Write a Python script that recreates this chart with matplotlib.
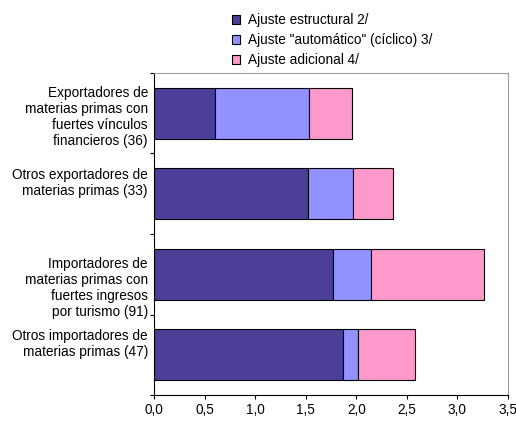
#! /usr/bin/env python3

import numpy as np
import matplotlib
matplotlib.use('Agg')
import matplotlib.pyplot as plt
from matplotlib.ticker import FuncFormatter

plt.rcParams['font.family'] = ['Liberation Sans', 'DejaVu Sans']

categories = ["Exportadores de\nmaterias primas con\nfuertes vínculos\nfinancieros (36)",
              "Otros exportadores de\nmaterias primas (33)",
              "Importadores de\nmaterias primas con\nfuertes ingresos\npor turismo (91)",
              "Otros importadores de\nmaterias primas (47)"]
series_names = ["Ajuste estructural 2/", "Ajuste \"automático\" (cíclico) 3/", "Ajuste adicional 4/"]
estructural = [0.60, 1.52, 1.77, 1.87]
automatico = [0.93, 0.45, 0.38, 0.15]
adicional = [0.43, 0.39, 1.11, 0.56]
xticks = [0.0, 0.5, 1.0, 1.5, 2.0, 2.5, 3.0, 3.5]

colors = ['#4B3F98', '#9191FF', '#FF99CC']
fs = 9.8

fig = plt.figure(figsize=(5.16, 4.23), dpi=100)
W, H = 516, 423
ax = fig.add_axes([154/W, 1-395/H, (508-154)/W, (395-73)/H])

y = np.arange(len(categories)) + 0.5
left = np.zeros(len(categories))
for vals, name, c in zip([estructural, automatico, adicional], series_names, colors):
	ax.barh(y, vals, height=0.63, left=left, color=c, edgecolor='black', linewidth=0.8, label=name)
	left = left + np.array(vals)

ax.set_xlim(0, 3.5)
ax.set_ylim(len(categories), 0)
ax.set_xticks(xticks)
ax.xaxis.set_major_formatter(FuncFormatter(lambda v, p: ('%.1f' % v).replace('.', ',')))
ax.set_yticks(np.arange(len(categories)+1))
ax.set_yticklabels([])
ax.tick_params(axis='both', direction='out', length=3, width=0.8, labelsize=fs, pad=2.5, color='black')

# category labels (Excel puts them slightly off-centre)
offsets = [0.047, -0.137, 0.165, -0.134]
for yi, lab, off in zip(y, categories, offsets):
	ax.text(-0.017, yi + off, lab, transform=ax.get_yaxis_transform(), ha='right', va='center',
		fontsize=fs, linespacing=1.18)

for s in ['top', 'right']:
	ax.spines[s].set_color('#A0A0A0')
	ax.spines[s].set_linewidth(0.8)
for s in ['left', 'bottom']:
	ax.spines[s].set_color('black')
	ax.spines[s].set_linewidth(0.8)

fig.legend(loc='upper left', bbox_to_anchor=(232/W, 1-13/H), frameon=False, fontsize=fs,
	handlelength=0.6, handleheight=0.6, handletextpad=0.6, labelspacing=0.45,
	borderpad=0, borderaxespad=0)

plt.savefig('out.png', dpi=100)
plt.close()
